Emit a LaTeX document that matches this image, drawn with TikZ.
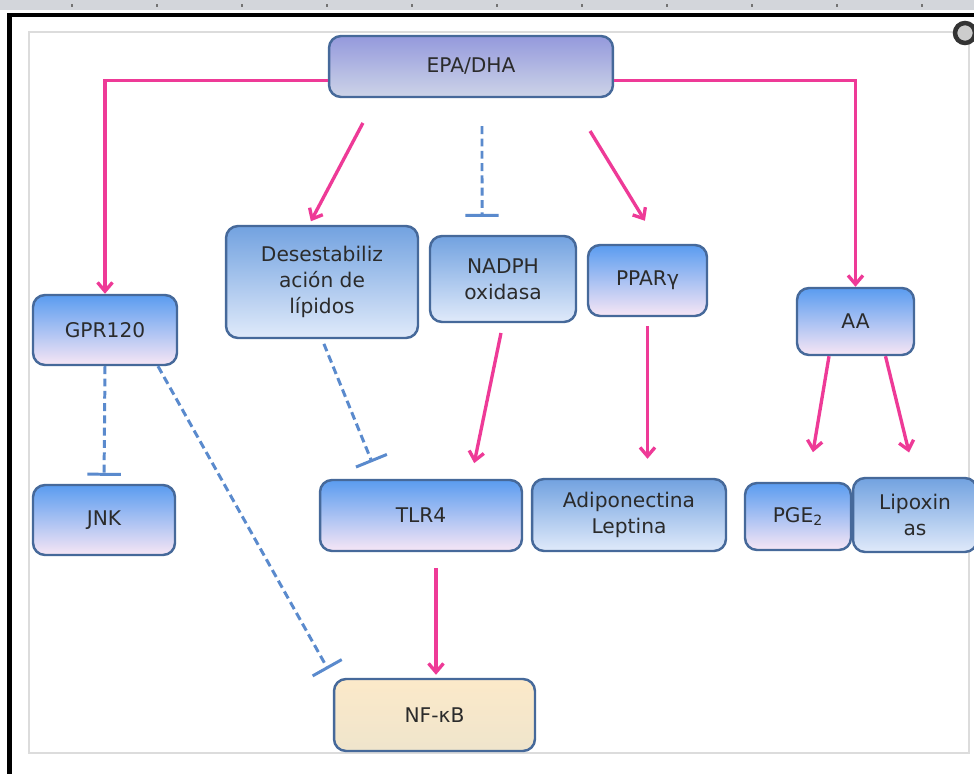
\documentclass[tikz,border=0pt]{standalone}
\usepackage{fontspec}
\setmainfont{DejaVu Sans}
\usetikzlibrary{arrows.meta}
\definecolor{pinkline}{HTML}{EE3A97}
\definecolor{dashblue}{HTML}{5A8ACD}
\definecolor{boxedge}{HTML}{46699A}
\definecolor{boxtext}{HTML}{2B2B2B}
\definecolor{stripgray}{HTML}{D3D6DB}
\definecolor{framegray}{HTML}{DCDCDC}
\tikzset{
  entity/.style={draw=boxedge, line width=1.4pt, rounded corners=0.24cm,
    text=boxtext, align=center, inner sep=0pt,
    font=\fontsize{11.5}{15}\selectfont},
  bluepink/.style={entity, top color={rgb,255:red,90;green,156;blue,240},
    middle color={rgb,255:red,142;green,188;blue,242}, bottom color={rgb,255:red,247;green,230;blue,245}},
  paleblue/.style={entity, top color={rgb,255:red,114;green,162;blue,224},
    middle color={rgb,255:red,169;green,198;blue,238}, bottom color={rgb,255:red,224;green,234;blue,250}},
  lilac/.style={entity, top color={rgb,255:red,148;green,153;blue,220},
    middle color={rgb,255:red,198;green,203;blue,246}, bottom color={rgb,255:red,205;green,212;blue,232}},
  beige/.style={entity, top color={rgb,255:red,252;green,233;blue,201},
    bottom color={rgb,255:red,239;green,229;blue,204}},
  pinkarrow/.style={pinkline, line width=1.9pt, -{Straight Barb[length=5pt,width=8.5pt]}},
  inhib/.style={dashblue, line width=1.7pt, dash pattern=on 4.5pt off 2.5pt,
    -{Bar[width=19pt,line width=1.7pt]}}
}
\begin{document}
\begin{tikzpicture}[x=0.02cm,y=-0.02cm]
    \useasboundingbox (0,0) rectangle (974,774);
    \clip (0,0) rectangle (974,774);
    \fill[white] (0,0) rectangle (974,774);
    % window frame
    \fill[stripgray] (0,0) rectangle (974,10);
    \foreach \tx in {72,157,...,922}
        \draw[black!55, line width=0.8pt] (\tx,4) -- (\tx,7);
    \draw[black, line width=0.09cm] (9.5,774) -- (9.5,15) -- (974,15);
    \draw[framegray, line width=0.04cm] (29,32) rectangle (969,753);
    \draw[black!80, fill=black!20, line width=0.09cm] (965,33) circle (0.2cm);

    % boxes
    \node[lilac, minimum width=5.68cm, minimum height=1.22cm] (epa) at (471,66.5) {EPA/DHA};
    \node[bluepink, minimum width=2.88cm, minimum height=1.40cm] (gpr) at (105,330) {GPR120};
    \node[bluepink, minimum width=2.84cm, minimum height=1.40cm] (jnk) at (104,520) {JNK};
    \node[paleblue, minimum width=3.84cm, minimum height=2.24cm] (desest) at (322,282) {Desestabiliz\\ación de\\lípidos};
    \node[paleblue, minimum width=2.92cm, minimum height=1.72cm] (nadph) at (503,279) {NADPH\\oxidasa};
    \node[bluepink, minimum width=2.38cm, minimum height=1.42cm] (ppar) at (647.5,280.5) {PPARγ};
    \node[bluepink, minimum width=2.34cm, minimum height=1.34cm] (aa) at (855.5,321.5) {AA};
    \node[bluepink, minimum width=4.04cm, minimum height=1.42cm] (tlr) at (421,515.5) {TLR4};
    \node[paleblue, minimum width=3.88cm, minimum height=1.44cm] (adipo) at (629,515) {Adiponectina\\Leptina};
    \node[bluepink, minimum width=2.12cm, minimum height=1.34cm] (pge) at (798,516.5) {PGE\textsubscript{2}};
    \node[paleblue, minimum width=2.48cm, minimum height=1.48cm] (lipox) at (915,515) {Lipoxin\\as};
    \node[beige, minimum width=4.02cm, minimum height=1.44cm] (nfkb) at (434.5,715) {NF-κB};

    % connectors
    \draw[pinkarrow] ([yshift=-0.28cm]epa.west) -| (gpr.north);
    \draw[pinkarrow] ([yshift=-0.28cm]epa.east) -| (aa.north);
    \draw[pinkarrow, shorten <=0.56cm, shorten >=0.08cm] ([xshift=-1.9cm]epa.south) -- ([xshift=-0.26cm]desest.north);
    \draw[inhib, shorten <=0.56cm, shorten >=0.36cm] ([xshift=0.22cm]epa.south) -- ([xshift=-0.42cm]nadph.north);
    \draw[pinkarrow, shorten <=0.77cm, shorten >=0.54cm] ([xshift=1.98cm]epa.south) -- ([xshift=0.23cm]ppar.north);
    \draw[inhib, shorten >=0.16cm] (gpr.south) -- (jnk.north);
    \draw[inhib, shorten >=0.2cm] ([xshift=1.06cm]gpr.south) -- (nfkb.north west);
    \draw[inhib, shorten <=0.1cm, shorten >=0.36cm] (desest.south) -- ([xshift=1.2cm]tlr.north west);
    \draw[pinkarrow, shorten <=0.2cm, shorten >=0.32cm] (nadph.south) -- ([xshift=1cm]tlr.north);
    \draw[pinkarrow, shorten <=0.18cm, shorten >=0.38cm] (ppar.south) -- (ppar.south |- adipo.north);
    \draw[pinkarrow, shorten >=0.6cm] ([xshift=-0.53cm]aa.south) -- ([xshift=0.2cm]pge.north);
    \draw[pinkarrow, shorten >=0.5cm] ([xshift=0.6cm]aa.south) -- (lipox.north);
    \draw[pinkarrow, shorten <=0.32cm, shorten >=0.06cm] ([xshift=0.3cm]tlr.south) -- ([xshift=0.3cm]tlr.south |- nfkb.north);
\end{tikzpicture}
\end{document}
